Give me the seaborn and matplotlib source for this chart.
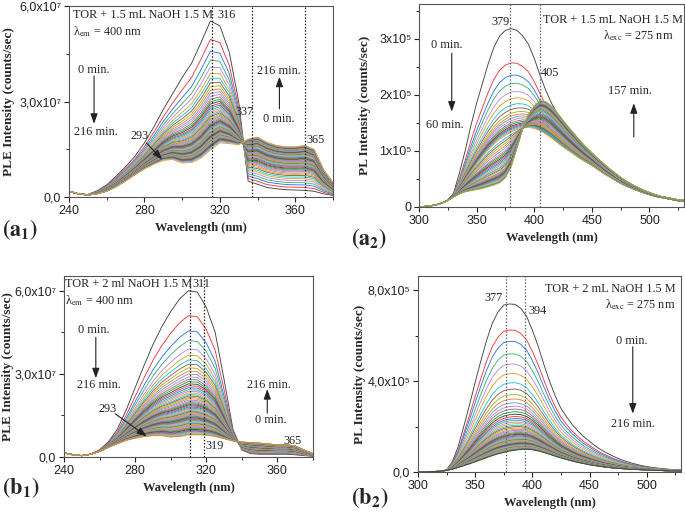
import numpy as np
import pandas as pd
import matplotlib
matplotlib.use("Agg")
import matplotlib.pyplot as plt
import seaborn as sns
from matplotlib.ticker import FixedLocator

sns.set_theme(style="ticks")
plt.rcParams["font.family"] = ["Liberation Sans", "DejaVu Sans"]
plt.rcParams["mathtext.fontset"] = "stix"
plt.rcParams["axes.edgecolor"] = "#333333"
plt.rcParams["axes.linewidth"] = 0.8

SERIF = ["Liberation Serif", "DejaVu Serif"]

# ---- data ----
# PLE spectra, 240-380 nm every 5 nm, units of 1e7 counts/s
ple_wl = np.arange(240, 381, 5)
a1_first = [0.18, 0.10, 0.08, 0.20, 0.38, 0.65, 0.95, 1.28, 1.70, 2.20,
            2.75, 3.25, 3.75, 4.20, 4.85, 5.53, 5.38, 4.55, 3.00, 0.50,
            0.40, 0.30, 0.26, 0.23, 0.22, 0.21, 0.18, 0.10, 0.05]
a1_last = [0.18, 0.10, 0.06, 0.10, 0.18, 0.32, 0.50, 0.70, 0.88, 1.03,
           1.15, 1.18, 1.07, 1.08, 1.22, 1.48, 1.70, 1.68, 1.64, 1.82,
           1.88, 1.72, 1.62, 1.58, 1.58, 1.62, 1.50, 0.86, 0.45]
# height of every curve at 315 nm (0 -> 216 min)
a1_peaks = [5.53, 4.95, 4.58, 4.30, 4.08, 3.88, 3.72, 3.58, 3.46, 3.35,
            3.25, 3.16, 3.07, 2.99, 2.92, 2.85, 2.79, 2.73, 2.67, 2.62,
            2.57, 2.52, 2.47, 2.43, 2.39, 2.35, 2.31, 2.27, 2.24, 2.21,
            2.18, 2.15, 2.12, 2.09, 2.06, 2.03, 2.01, 1.99, 1.97, 1.95,
            1.93, 1.91, 1.89, 1.87, 1.85, 1.83, 1.81, 1.79, 1.77, 1.75,
            1.73, 1.71, 1.69, 1.67, 1.65, 1.63, 1.61, 1.59, 1.57, 1.55,
            1.52, 1.48]
# height of every curve at 365 nm
a1_at365 = [0.21, 0.30, 0.38, 0.45, 0.52, 0.58, 0.63, 0.68, 0.72, 0.76,
            0.80, 0.83, 0.86, 0.89, 0.92, 0.95, 0.98, 1.00, 1.02, 1.04,
            1.06, 1.08, 1.10, 1.12, 1.14, 1.16, 1.18, 1.20, 1.22, 1.24,
            1.26, 1.28, 1.30, 1.32, 1.34, 1.36, 1.38, 1.39, 1.40, 1.41,
            1.42, 1.43, 1.44, 1.45, 1.46, 1.47, 1.48, 1.49, 1.50, 1.51,
            1.52, 1.53, 1.54, 1.55, 1.56, 1.57, 1.58, 1.59, 1.60, 1.61,
            1.615, 1.62]

b1_first = [0.15, 0.08, 0.05, 0.10, 0.26, 0.55, 1.00, 1.70, 2.50, 3.30,
            4.05, 4.70, 5.25, 5.70, 6.00, 5.95, 5.40, 4.50, 2.80, 1.00,
            0.25, 0.12, 0.10, 0.10, 0.10, 0.10, 0.08, 0.05, 0.03]
b1_last = [0.15, 0.08, 0.05, 0.10, 0.20, 0.35, 0.48, 0.60, 0.68, 0.74,
           0.77, 0.77, 0.72, 0.74, 0.80, 0.80, 0.79, 0.74, 0.66, 0.58,
           0.54, 0.52, 0.50, 0.47, 0.44, 0.44, 0.40, 0.25, 0.12]
# height of every curve at 310 nm
b1_peaks = [6.00, 5.10, 4.55, 4.20, 3.90, 3.68, 3.50, 3.35, 3.22, 3.10,
            2.99, 2.89, 2.80, 2.72, 2.64, 2.57, 2.50, 2.43, 2.37, 2.31,
            2.25, 2.20, 2.15, 2.10, 2.05, 2.00, 1.96, 1.92, 1.88, 1.84,
            1.80, 1.76, 1.72, 1.68, 1.65, 1.62, 1.59, 1.56, 1.53, 1.50,
            1.47, 1.44, 1.41, 1.38, 1.35, 1.32, 1.29, 1.26, 1.23, 1.20,
            1.17, 1.14, 1.11, 1.08, 1.05, 1.02, 0.99, 0.96, 0.93, 0.90,
            0.87, 0.84, 0.82, 0.80]
# height of every curve at 365 nm
b1_at365 = [0.10, 0.12, 0.14, 0.15, 0.16, 0.17, 0.18, 0.19, 0.20, 0.21,
            0.215, 0.22, 0.225, 0.23, 0.235, 0.24, 0.245, 0.25, 0.255, 0.26,
            0.265, 0.27, 0.275, 0.28, 0.285, 0.29, 0.295, 0.30, 0.305, 0.31,
            0.315, 0.32, 0.325, 0.33, 0.335, 0.34, 0.345, 0.35, 0.355, 0.36,
            0.365, 0.37, 0.375, 0.38, 0.385, 0.39, 0.395, 0.40, 0.405, 0.41,
            0.413, 0.416, 0.419, 0.422, 0.425, 0.428, 0.431, 0.433, 0.435,
            0.437, 0.438, 0.439, 0.44, 0.44]

# PL spectra, 300-530 nm every 5 nm, units of 1e5 counts/s
pl_wl = np.arange(300, 531, 5)
a2_0min = [0.00, 0.01, 0.02, 0.04, 0.07, 0.12, 0.25, 0.60, 1.00, 1.45,
           1.85, 2.20, 2.55, 2.85, 3.05, 3.15, 3.18, 3.15, 3.05, 2.90,
           2.65, 2.35, 2.08, 1.85, 1.66, 1.50, 1.36, 1.24, 1.12, 1.02,
           0.92, 0.82, 0.73, 0.64, 0.56, 0.49, 0.43, 0.37, 0.32, 0.28,
           0.24, 0.21, 0.18, 0.16, 0.14, 0.12, 0.11]
a2_60min = [0.00, 0.01, 0.02, 0.04, 0.07, 0.12, 0.20, 0.32, 0.48, 0.63,
            0.77, 0.90, 1.02, 1.12, 1.21, 1.28, 1.34, 1.38, 1.41, 1.42,
            1.40, 1.36, 1.30, 1.23, 1.15, 1.07, 1.00, 0.93, 0.86, 0.80,
            0.74, 0.67, 0.60, 0.54, 0.48, 0.42, 0.37, 0.33, 0.29, 0.25,
            0.22, 0.19, 0.17, 0.15, 0.13, 0.11, 0.10]
a2_157min = [0.00, 0.01, 0.02, 0.04, 0.07, 0.12, 0.18, 0.23, 0.27, 0.29,
             0.31, 0.33, 0.36, 0.39, 0.43, 0.52, 0.72, 1.05, 1.40, 1.65,
             1.80, 1.90, 1.88, 1.80, 1.68, 1.55, 1.42, 1.30, 1.18, 1.07,
             0.97, 0.87, 0.78, 0.69, 0.61, 0.53, 0.46, 0.40, 0.35, 0.30,
             0.26, 0.22, 0.19, 0.17, 0.15, 0.13, 0.12]
# 0 -> 60 min: height at 380 nm ; 60 -> 157 min: height at 405 nm
a2_fall = [3.18, 2.57, 2.35, 2.20, 2.05, 1.93, 1.82, 1.74, 1.67, 1.62,
           1.58, 1.54, 1.50, 1.47, 1.44, 1.42, 1.40, 1.38, 1.36, 1.34]
a2_rise = [1.40, 1.43, 1.46, 1.49, 1.52, 1.55, 1.57, 1.59, 1.61, 1.63,
           1.65, 1.67, 1.69, 1.71, 1.72, 1.74, 1.75, 1.77, 1.78, 1.79,
           1.80, 1.81, 1.82, 1.83, 1.84, 1.85, 1.86, 1.87, 1.88, 1.89,
           1.90]

b2_first = [0.00, 0.00, 0.01, 0.02, 0.04, 0.10, 0.45, 1.10, 2.00, 2.95,
            3.95, 4.90, 5.80, 6.55, 7.05, 7.35, 7.40, 7.38, 7.20, 6.85,
            6.25, 5.55, 4.75, 4.00, 3.35, 2.80, 2.42, 2.08, 1.80, 1.55,
            1.35, 1.15, 0.98, 0.84, 0.71, 0.60, 0.50, 0.42, 0.35, 0.29,
            0.24, 0.20, 0.17, 0.14, 0.12, 0.10, 0.09]
b2_last = [0.00, 0.00, 0.01, 0.02, 0.04, 0.07, 0.13, 0.20, 0.28, 0.36,
           0.45, 0.54, 0.63, 0.72, 0.80, 0.86, 0.92, 0.96, 0.99, 1.00,
           0.98, 0.93, 0.86, 0.78, 0.70, 0.62, 0.55, 0.48, 0.42, 0.37,
           0.32, 0.28, 0.24, 0.21, 0.18, 0.16, 0.14, 0.12, 0.11, 0.10,
           0.09, 0.08, 0.07, 0.06, 0.05, 0.05, 0.04]
# height of every curve at 380 nm
b2_peaks = [7.40, 6.25, 5.75, 5.20, 4.75, 4.33, 3.92, 3.64, 3.40, 3.20,
            3.03, 2.88, 2.75, 2.63, 2.52, 2.42, 2.33, 2.25, 2.17, 2.10,
            2.03, 1.97, 1.91, 1.85, 1.80, 1.75, 1.70, 1.66, 1.62, 1.58,
            1.54, 1.50, 1.47, 1.44, 1.41, 1.38, 1.35, 1.32, 1.29, 1.26,
            1.24, 1.22, 1.20, 1.18, 1.16, 1.14, 1.12, 1.10, 1.08, 1.06,
            1.04, 1.02, 1.00, 0.98, 0.96, 0.94, 0.92]

line_colors = ["#444444", "#f53a3a", "#2f78e6", "#45b078", "#b98cec",
               "#dca627", "#24c4d6", "#8d5e52", "#aab13a", "#f0862e",
               "#6a9fe0", "#e377c2", "#7f7f7f", "#2ca02c"]


def stack(wl, top, base, ref_nm, ref_vals, scale, right_nm=None,
          right_vals=None, split=None, start=0):
    """Each measured curve sits between two read spectra so that it hits
    the height read off the figure at ref_nm (and at right_nm past split)."""
    top = np.asarray(top, float)
    base = np.asarray(base, float)
    k = int(np.where(wl == ref_nm)[0][0])
    frames = []
    for i, v in enumerate(ref_vals):
        w = (v - base[k]) / (top[k] - base[k])
        y = base + w * (top - base)
        if right_vals is not None:
            kr = int(np.where(wl == right_nm)[0][0])
            wr = (right_vals[i] - base[kr]) / (top[kr] - base[kr])
            yr = base + wr * (top - base)
            m = wl > split
            y[m] = np.minimum(y[m], yr[m])
        frames.append(pd.DataFrame({"wl": wl, "y": y * scale,
                                    "curve": start + i}))
    return pd.concat(frames, ignore_index=True)


def draw(ax, df, last_color=None):
    n = df["curve"].nunique()
    pal = [line_colors[i % len(line_colors)] for i in range(n)]
    if last_color:
        pal[-1] = last_color
    sns.lineplot(data=df, x="wl", y="y", hue="curve", palette=pal,
                 estimator=None, sort=False, legend=False, lw=0.65, ax=ax)


def style(ax, xlim, xticks, xminor, ylim, yticks, ylabels, yminor, ylabel,
          ylab_x):
    ax.set_xlim(*xlim)
    ax.set_ylim(*ylim)
    ax.set_xticks(xticks)
    ax.xaxis.set_minor_locator(FixedLocator(xminor))
    ax.set_yticks(yticks)
    ax.set_yticklabels(ylabels)
    ax.yaxis.set_minor_locator(FixedLocator(yminor))
    ax.tick_params(which="major", direction="out", length=3.5, width=0.8,
                   labelsize=9, pad=2, colors="#222222")
    ax.tick_params(which="minor", direction="out", length=2, width=0.7)
    for s in ax.spines.values():
        s.set_visible(True)
        s.set_color("#555555")
    ax.set_xlabel("Wavelength (nm)", family=SERIF, weight="bold", fontsize=9)
    ax.set_ylabel(ylabel, family=SERIF, weight="bold", fontsize=9.5)
    ax.yaxis.set_label_coords(ylab_x, 0.5)


def txt(ax, x, y, s, **kw):
    ax.text(x, y, s, family=SERIF, fontsize=8.8, **kw)


def arrow(ax, start, end):
    ax.annotate("", xy=end, xytext=start,
                arrowprops=dict(arrowstyle="-|>,head_length=0.5,head_width=0.18",
                                color="#222222", lw=0.8, shrinkA=0, shrinkB=0))


fig = plt.figure(figsize=(6.85, 5.14), dpi=100)
ax_a1 = fig.add_axes([0.1007, 0.6167, 0.3854, 0.3716])
ax_a2 = fig.add_axes([0.6117, 0.5973, 0.3869, 0.3950])
ax_b1 = fig.add_axes([0.0934, 0.1109, 0.3635, 0.3521])
ax_b2 = fig.add_axes([0.6102, 0.0817, 0.3840, 0.3813])

dot = dict(ls=(0, (1.2, 1.4)), lw=0.9)

# (a1)
draw(ax_a1, stack(ple_wl, a1_first, a1_last, 315, a1_peaks, 1e7,
                  right_nm=365, right_vals=a1_at365, split=332))
for lam in (316, 337, 365):
    ax_a1.axvline(lam, color="#222222", **dot)
style(ax_a1, (240, 380), [240, 280, 320, 360], [260, 300, 340, 380],
      (0, 6.0e7), [0, 3e7, 6e7], ["0,0", "3,0x10⁷", "6,0x10⁷"],
      [1.5e7, 4.5e7], "PLE Intensity (counts/sec)", -0.205)
txt(ax_a1, 242, 5.72e7, "TOR + 1.5 mL NaOH 1.5 M", va="center")
txt(ax_a1, 242, 5.2e7, "λ$_{\\rm em}$ = 400 nm", va="center")
txt(ax_a1, 318.5, 5.72e7, "316", va="center")
txt(ax_a1, 253, 4.0e7, "0 min.", ha="center", va="center")
arrow(ax_a1, (253.3, 3.8e7), (253.3, 2.3e7))
txt(ax_a1, 254, 2.05e7, "216 min.", ha="center", va="center")
txt(ax_a1, 277.5, 1.93e7, "293", ha="center", va="center")
arrow(ax_a1, (281, 1.7e7), (289.5, 1.18e7))
txt(ax_a1, 333, 2.66e7, "337", ha="center", va="center")
txt(ax_a1, 351.5, 3.96e7, "216 min.", ha="center", va="center")
arrow(ax_a1, (351.6, 2.77e7), (351.6, 3.78e7))
txt(ax_a1, 351.5, 2.45e7, "0 min.", ha="center", va="center")
txt(ax_a1, 366, 1.78e7, "365", va="center")

# (a2)
pl_fall = stack(pl_wl, a2_0min, a2_60min, 380, a2_fall, 1e5)
pl_rise = stack(pl_wl, a2_157min, a2_60min, 405, a2_rise, 1e5,
                start=len(a2_fall))
draw(ax_a2, pd.concat([pl_fall, pl_rise], ignore_index=True))
for lam in (379, 405):
    ax_a2.axvline(lam, color="#666666", **dot)
style(ax_a2, (300, 530), [300, 350, 400, 450, 500], [325, 375, 425, 475, 525],
      (0, 3.62e5), [0, 1e5, 2e5, 3e5], ["0", "1x10⁵", "2x10⁵", "3x10⁵"],
      [0.5e5, 1.5e5, 2.5e5, 3.5e5], "PL Intensity (counts/sec)", -0.18)
txt(ax_a2, 370.5, 3.3e5, "379", ha="center", va="center")
txt(ax_a2, 529, 3.33e5, "TOR + 1.5 mL NaOH 1.5 M", ha="right", va="center")
txt(ax_a2, 521, 3.06e5, "λ$_{\\rm exc}$ = 275 nm", ha="right", va="center")
txt(ax_a2, 324, 2.89e5, "0 min.", ha="center", va="center")
arrow(ax_a2, (328.4, 2.74e5), (328.4, 1.7e5))
txt(ax_a2, 322, 1.46e5, "60 min.", ha="center", va="center")
txt(ax_a2, 413.5, 2.39e5, "405", ha="center", va="center")
txt(ax_a2, 483, 2.07e5, "157 min.", ha="center", va="center")
arrow(ax_a2, (486.4, 1.25e5), (486.4, 1.85e5))

# (b1)
draw(ax_b1, stack(ple_wl, b1_first, b1_last, 310, b1_peaks, 1e7,
                  right_nm=365, right_vals=b1_at365, split=337),
     last_color="#ff7f0e")
for lam in (311, 319):
    ax_b1.axvline(lam, color="#222222", **dot)
style(ax_b1, (240, 380), [240, 280, 320, 360], [260, 300, 340, 380],
      (0, 6.53e7), [0, 3e7, 6e7], ["0,0", "3,0x10⁷", "6,0x10⁷"],
      [1.5e7, 4.5e7], "PLE Intensity (counts/sec)", -0.2)
txt(ax_b1, 240.8, 6.24e7, "TOR + 2 ml NaOH 1.5 M", va="center")
txt(ax_b1, 312, 6.24e7, "311", va="center")
txt(ax_b1, 240.8, 5.62e7, "λ$_{\\rm em}$ = 400 nm", va="center")
txt(ax_b1, 257, 4.58e7, "0 min.", ha="center", va="center")
arrow(ax_b1, (257.9, 4.32e7), (257.9, 2.84e7))
txt(ax_b1, 259.5, 2.6e7, "216 min.", ha="center", va="center")
txt(ax_b1, 264.5, 1.73e7, "293", ha="center", va="center")
arrow(ax_b1, (268.8, 1.56e7), (286.6, 0.74e7))
txt(ax_b1, 319.5, 0.41e7, "319", va="center")
txt(ax_b1, 355, 2.6e7, "216 min.", ha="center", va="center")
arrow(ax_b1, (354.3, 1.58e7), (354.3, 2.45e7))
txt(ax_b1, 356.5, 1.32e7, "0 min.", ha="center", va="center")
txt(ax_b1, 363.5, 0.58e7, "365", va="center")

# (b2)
draw(ax_b2, stack(pl_wl, b2_first, b2_last, 380, b2_peaks, 1e5))
for lam in (377, 394):
    ax_b2.axvline(lam, color="#666666", **dot)
style(ax_b2, (300, 530), [300, 350, 400, 450, 500], [325, 375, 425, 475, 525],
      (0, 8.63e5), [0, 4e5, 8e5], ["0,0", "4,0x10⁵", "8,0x10⁵"],
      [2e5, 6e5], "PL Intensity (counts/sec)", -0.198)
txt(ax_b2, 525, 8.04e5, "TOR + 2 mL NaOH 1.5 M", ha="right", va="center")
txt(ax_b2, 525, 7.36e5, "λ$_{\\rm exc}$ = 275 nm", ha="right", va="center")
txt(ax_b2, 366, 7.65e5, "377", ha="center", va="center")
txt(ax_b2, 396.2, 7.09e5, "394", va="center")
txt(ax_b2, 486.5, 5.78e5, "0 min.", ha="center", va="center")
arrow(ax_b2, (487.8, 5.51e5), (487.8, 2.57e5))
txt(ax_b2, 488, 2.1e5, "216 min.", ha="center", va="center")

# panel tags
for x, y, tag in [(0.003, 0.553, "a_1"), (0.512, 0.535, "a_2"),
                  (0.003, 0.052, "b_1"), (0.512, 0.032, "b_2")]:
    fig.text(x, y, r"$\mathbf{(%s)}$" % tag, fontsize=16, va="center")

fig.savefig("out.png", dpi=100, facecolor="white")
